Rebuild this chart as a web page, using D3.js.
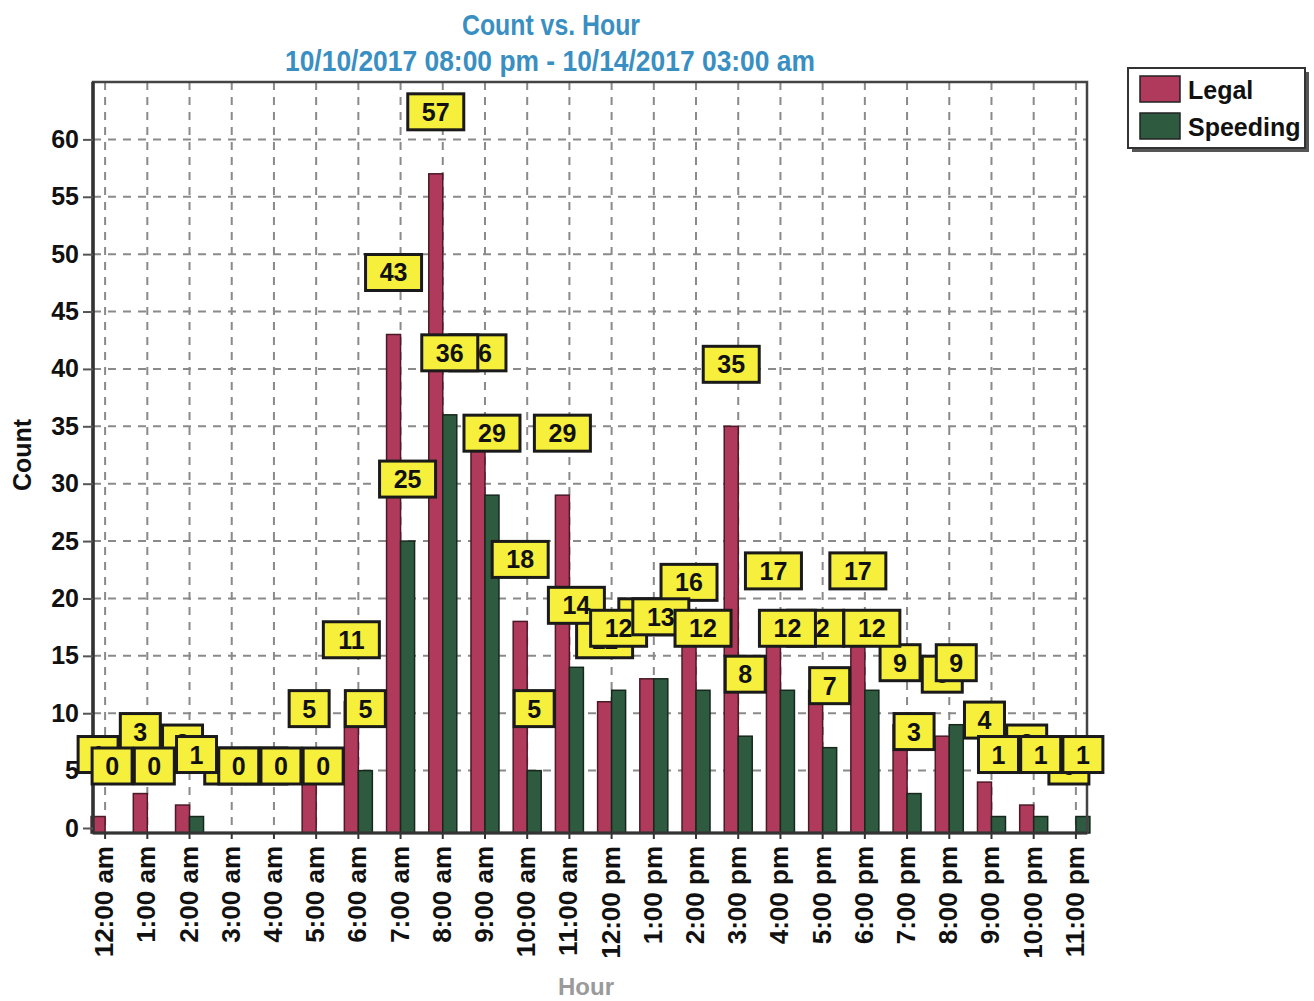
<!DOCTYPE html>
<html>
<head>
<meta charset="utf-8">
<script src="https://cdn.jsdelivr.net/npm/d3@7"></script>
<style>
  html, body { margin: 0; padding: 0; background: #ffffff; }
  svg { display: block; }
  text { font-family: "Liberation Sans", Arial, sans-serif; }
</style>
</head>
<body>
<svg id="chart" width="1314" height="1001"></svg>
<script>
// ---- data ----
const hours = ["12:00 am","1:00 am","2:00 am","3:00 am","4:00 am","5:00 am","6:00 am","7:00 am","8:00 am","9:00 am","10:00 am","11:00 am",
               "12:00 pm","1:00 pm","2:00 pm","3:00 pm","4:00 pm","5:00 pm","6:00 pm","7:00 pm","8:00 pm","9:00 pm","10:00 pm","11:00 pm"];
const legal    = [1,3,2,0,0,5,11,43,57,36,18,29,11,13,16,35,17,12,17,9,8,4,2,0];
const speeding = [0,0,1,0,0,0,5,25,36,29,5,14,12,13,12,8,12,7,12,3,9,1,1,1];
const seriesNames = ["Legal","Speeding"];
const yTicks = [0,5,10,15,20,25,30,35,40,45,50,55,60];
const titleText = "Count vs. Hour";
const subtitleText = "10/10/2017 08:00 pm - 10/14/2017 03:00 am";

// ---- layout ----
const svg = d3.select("#chart");
const frame = {left: 93, right: 1087, top: 82, bottom: 833};
const colors = {Legal: "#b03a5b", Speeding: "#2e5b40"};
const strokes = {Legal: "#4a1a28", Speeding: "#16281c"};

const x = d3.scaleBand().domain(hours).range([84, 1097]).padding(0);
const xs = d3.scaleBand().domain(seriesNames)
  .range([x.bandwidth()/2 - 14, x.bandwidth()/2 + 14]).padding(0);
const y = d3.scaleLinear().domain([0, 65]).range([828, 82]);

// Titles
const titleColor = "#3a8fc2";
svg.append("text").attr("x", 551).attr("y", 35).attr("text-anchor", "middle")
  .attr("font-size", 30).attr("font-weight", "bold").attr("fill", titleColor)
  .attr("textLength", 178).attr("lengthAdjust", "spacingAndGlyphs").text(titleText);
svg.append("text").attr("x", 550).attr("y", 71).attr("text-anchor", "middle")
  .attr("font-size", 30).attr("font-weight", "bold").attr("fill", titleColor)
  .attr("textLength", 530).attr("lengthAdjust", "spacingAndGlyphs").text(subtitleText);

// plot background
svg.append("rect").attr("x", frame.left).attr("y", frame.top)
  .attr("width", frame.right - frame.left).attr("height", frame.bottom - frame.top)
  .attr("fill", "#ffffff");

// grid lines
const grid = svg.append("g");
grid.selectAll("line.h").data(yTicks.filter(d => d > 0)).join("line")
  .attr("x1", frame.left).attr("x2", frame.right)
  .attr("y1", d => y(d)).attr("y2", d => y(d))
  .attr("stroke", "#8a8a8a").attr("stroke-width", 2).attr("stroke-dasharray", "8,7");
grid.selectAll("line.v").data(hours).join("line")
  .attr("x1", d => x(d) + x.bandwidth()/2).attr("x2", d => x(d) + x.bandwidth()/2)
  .attr("y1", frame.top).attr("y2", frame.bottom)
  .attr("stroke", "#8a8a8a").attr("stroke-width", 2).attr("stroke-dasharray", "8,7");

// bars
const groups = svg.append("g").selectAll("g").data(hours).join("g")
  .attr("transform", d => `translate(${x(d)},0)`);
groups.selectAll("rect").data((d, i) => [
    {s: "Legal", v: legal[i]}, {s: "Speeding", v: speeding[i]}].filter(b => b.v > 0))
  .join("rect")
  .attr("x", d => xs(d.s))
  .attr("width", xs.bandwidth())
  .attr("y", d => y(d.v))
  .attr("height", d => Math.max(0, frame.bottom - y(d.v)))
  .attr("fill", d => colors[d.s])
  .attr("stroke", d => strokes[d.s]).attr("stroke-width", 1.5);

// frame
svg.append("rect").attr("x", frame.left).attr("y", frame.top)
  .attr("width", frame.right - frame.left).attr("height", frame.bottom - frame.top)
  .attr("fill", "none").attr("stroke", "#444").attr("stroke-width", 2.5);
svg.append("line").attr("x1", frame.left).attr("x2", frame.left)
  .attr("y1", frame.top).attr("y2", frame.bottom).attr("stroke", "#333").attr("stroke-width", 3.5);
svg.append("line").attr("x1", frame.left).attr("x2", frame.right)
  .attr("y1", frame.bottom).attr("y2", frame.bottom).attr("stroke", "#333").attr("stroke-width", 3);

// y axis
const yAxis = svg.append("g").attr("transform", `translate(${frame.left},0)`)
  .call(d3.axisLeft(y).tickValues(yTicks).tickSize(10).tickPadding(4));
yAxis.select(".domain").remove();
yAxis.selectAll(".tick line").attr("stroke", "#555").attr("stroke-width", 2);
yAxis.selectAll(".tick text").attr("font-size", 25).attr("font-weight", "bold")
  .attr("fill", "#111").attr("font-family", "Liberation Sans, Arial, sans-serif");

// x axis
const xAxis = svg.append("g").attr("transform", `translate(0,${frame.bottom})`)
  .call(d3.axisBottom(x).tickSize(6).tickPadding(0));
xAxis.select(".domain").remove();
xAxis.selectAll(".tick line").attr("stroke", "#333").attr("stroke-width", 2);
xAxis.selectAll(".tick text")
  .attr("font-size", 26).attr("font-weight", "bold").attr("fill", "#111")
  .attr("font-family", "Liberation Sans, Arial, sans-serif")
  .attr("text-anchor", "end").attr("dy", null)
  .attr("transform", "translate(8,13) rotate(-90)")
  .attr("x", 0).attr("y", 0);

// axis titles
svg.append("text").attr("transform", "translate(31,455) rotate(-90)")
  .attr("text-anchor", "middle").attr("font-size", 25).attr("font-weight", "bold")
  .attr("fill", "#111").text("Count");
svg.append("text").attr("x", 586).attr("y", 995).attr("text-anchor", "middle")
  .attr("font-size", 24).attr("font-weight", "bold").attr("fill", "#9a9a9a").text("Hour");

// data labels (all Legal first, then all Speeding)
const labelData = [];
seriesNames.forEach(s => {
  const vals = s === "Legal" ? legal : speeding;
  hours.forEach((h, i) => labelData.push({h, s, v: vals[i]}));
});
const labels = svg.append("g").selectAll("g").data(labelData).join("g")
  .attr("transform", d => `translate(${x(d.h) + xs(d.s) + xs.bandwidth()/2},${y(d.v) - 62})`);
labels.append("rect")
  .attr("x", d => String(d.v).length > 1 ? -28 : -20)
  .attr("width", d => String(d.v).length > 1 ? 56 : 40)
  .attr("y", -18).attr("height", 36)
  .attr("fill", "#f6ef3c").attr("stroke", "#1a1a1a").attr("stroke-width", 3);
labels.append("text").attr("text-anchor", "middle").attr("dy", "0.36em")
  .attr("font-size", 25).attr("font-weight", "bold").attr("fill", "#111")
  .text(d => d.v);

// legend
const lg = svg.append("g").attr("transform", "translate(1128,68)");
lg.append("rect").attr("x", 4).attr("y", 4).attr("width", 177).attr("height", 80).attr("fill", "#555");
lg.append("rect").attr("x", 0).attr("y", 0).attr("width", 177).attr("height", 80)
  .attr("fill", "#fff").attr("stroke", "#333").attr("stroke-width", 2);
seriesNames.forEach((s, i) => {
  lg.append("rect").attr("x", 12).attr("y", 8 + i * 37).attr("width", 40).attr("height", 26)
    .attr("fill", colors[s]).attr("stroke", "#222").attr("stroke-width", 1.5);
  lg.append("text").attr("x", 60).attr("y", 31 + i * 37).attr("font-size", 25)
    .attr("font-weight", "bold").attr("fill", "#111").text(s);
});
</script>
</body>
</html>
